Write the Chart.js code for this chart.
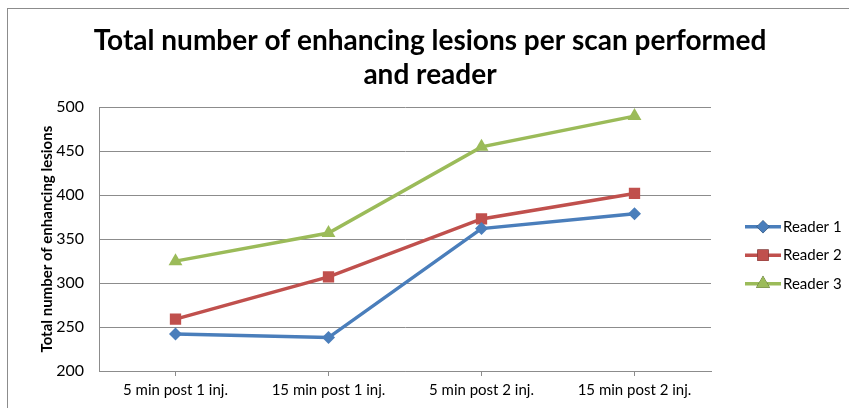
<!DOCTYPE html>
<html>
<head>
<meta charset="utf-8">
<script src="https://cdn.jsdelivr.net/npm/chart.js@4"></script>
<style>
  html, body { margin: 0; padding: 0; background: #fff; }
  #wrap { position: relative; width: 849px; height: 408px; }
  #frame {
    position: absolute; left: 7px; top: 8px; right: -5px; bottom: -5px;
    border-left: 1px solid #8c8c8c; border-top: 1px solid #8c8c8c;
    pointer-events: none;
  }
</style>
</head>
<body>
<div id="wrap">
  <canvas id="grafico" width="849" height="408"></canvas>
  <div id="frame"></div>
</div>
<script>
// dados
const categorias = ["5 min post 1 inj.", "15 min post 1 inj.", "5 min post 2 inj.", "15 min post 2 inj."];
const reader1 = [242, 238, 362, 379];
const reader2 = [259, 307, 373, 402];
const reader3 = [325, 357, 455, 490];
const yTicks = [200, 250, 300, 350, 400, 450, 500];

const FONT = "Lato, 'Open Sans', sans-serif";

const series = [
  { label: "Reader 1", data: reader1, color: "#4a7ebb", style: "rectRot", r: 6.5 },
  { label: "Reader 2", data: reader2, color: "#c0504d", style: "rect", r: 8 },
  { label: "Reader 3", data: reader3, color: "#9bbb59", style: "triangle", r: 8 },
];

/* legenda à direita: linha + marcador, desenhada à mão */
const legendaLateral = {
  id: "legendaLateral",
  afterDraw(chart) {
    const ctx = chart.ctx;
    const area = chart.chartArea;
    const x0 = area.right + 34;
    const rowH = 28.5;
    const yc = (area.top + area.bottom) / 2 + 16;
    ctx.save();
    ctx.font = "15px " + FONT;
    ctx.textBaseline = "middle";
    series.forEach((s, i) => {
      const y = yc + (i - 1) * rowH;
      ctx.strokeStyle = s.color;
      ctx.lineWidth = 3.5;
      ctx.beginPath();
      ctx.moveTo(x0, y);
      ctx.lineTo(x0 + 36, y);
      ctx.stroke();
      Chart.helpers.drawPoint(ctx, { pointStyle: s.style, radius: s.r, borderWidth: 0 }, x0 + 18, y);
      ctx.fillStyle = s.color;
      ctx.fill();
      ctx.fillStyle = "#000";
      ctx.fillText(s.label, x0 + 38, y);
    });
    ctx.restore();
  },
};

new Chart(document.getElementById("grafico"), {
  type: "line",
  data: {
    labels: categorias,
    datasets: series.map((s) => ({
      label: s.label,
      data: s.data,
      borderColor: s.color,
      backgroundColor: s.color,
      borderWidth: 3.5,
      pointStyle: s.style,
      pointRadius: s.r,
      pointHoverRadius: s.r,
      pointBorderWidth: 0,
      tension: 0,
    })),
  },
  plugins: [legendaLateral],
  options: {
    responsive: false,
    animation: false,
    layout: { padding: { left: 38, right: 27, top: 8, bottom: 4 } },
    plugins: {
      title: {
        display: true,
        text: ["Total number of enhancing lesions per scan performed", "and reader"],
        color: "#000",
        font: { family: FONT, size: 28, weight: "bold", lineHeight: 1.22 },
        padding: { top: 16, bottom: 15 },
      },
      legend: { display: false },
      tooltip: { enabled: false },
    },
    scales: {
      x: {
        offset: true,
        grid: { display: true, offset: false, drawOnChartArea: false, drawTicks: true, tickLength: 5, color: "#8c8c8c" },
        border: { display: true, color: "#8c8c8c" },
        ticks: { color: "#000", font: { family: FONT, size: 15 }, padding: 5, maxRotation: 0 },
      },
      y: {
        min: 200,
        max: 500,
        afterBuildTicks: (axis) => { axis.ticks = yTicks.map((v) => ({ value: v })); },
        afterFit: (s) => { s.width = 61; },
        grid: { color: "#8c8c8c", drawTicks: false },
        border: { display: true, color: "#8c8c8c" },
        ticks: { color: "#000", font: { family: FONT, size: 16 }, padding: 15 },
        title: {
          display: true,
          text: "Total number of enhancing lesions",
          color: "#000",
          font: { family: FONT, size: 15, weight: "bold" },
          padding: { top: 0, bottom: 2 },
        },
      },
      // espaço reservado para a legenda lateral
      espaco: {
        type: "linear",
        position: "right",
        display: true,
        grid: { display: false, drawTicks: false },
        border: { display: false },
        ticks: { display: false },
        afterFit: (s) => { s.width = 111; },
      },
    },
  },
});
</script>
</body>
</html>
